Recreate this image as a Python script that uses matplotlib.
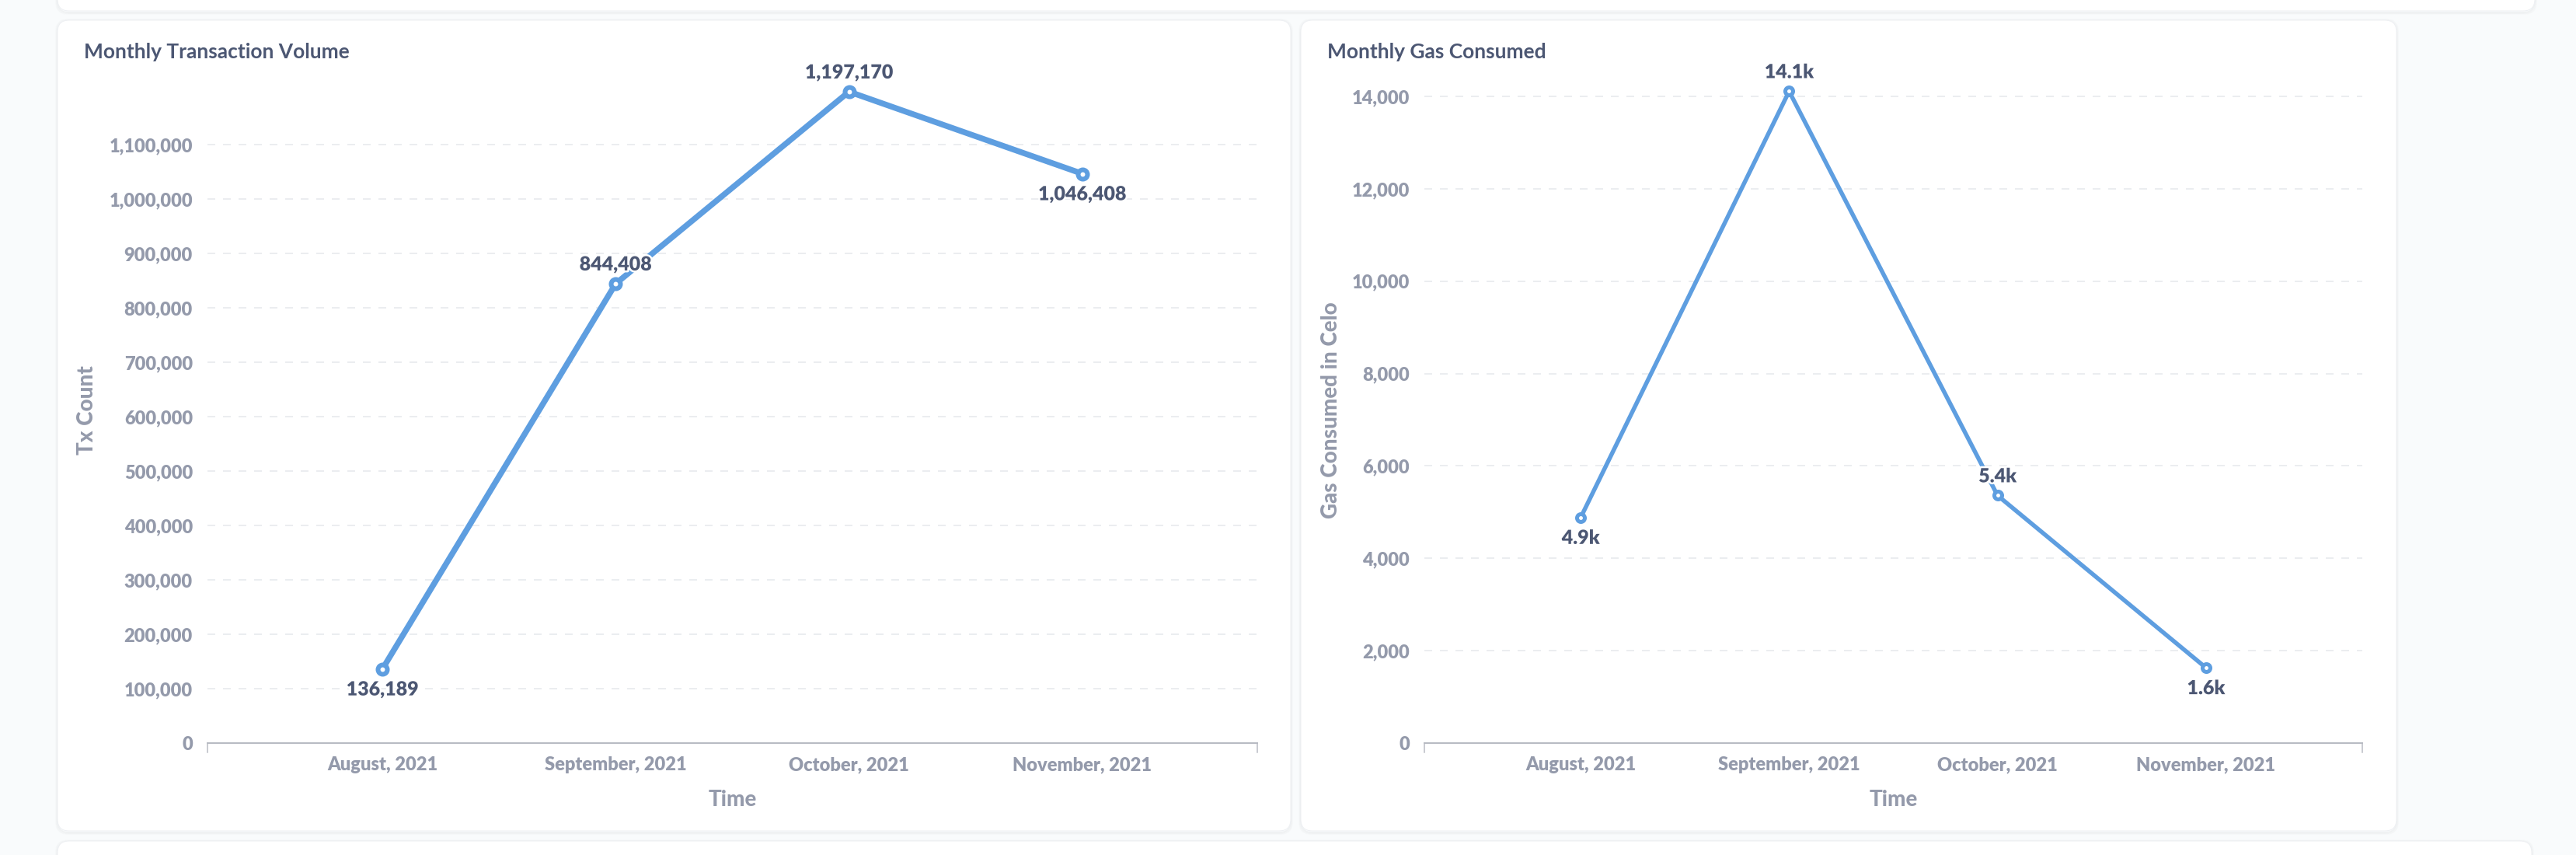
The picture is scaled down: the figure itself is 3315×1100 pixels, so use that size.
import matplotlib
matplotlib.use("Agg")
import matplotlib.pyplot as plt
from matplotlib.patches import FancyBboxPatch
from matplotlib.ticker import FuncFormatter
import matplotlib.patheffects as pe
from matplotlib import font_manager as fm

# ---------------- data ----------------
months = ["August, 2021", "September, 2021", "October, 2021", "November, 2021"]
tx_count = [136189, 844408, 1197170, 1046408]
tx_labels = ["136,189", "844,408", "1,197,170", "1,046,408"]
tx_label_pos = ["below", "above", "above", "below"]
tx_yticks = [0, 100000, 200000, 300000, 400000, 500000, 600000, 700000,
             800000, 900000, 1000000, 1100000]

gas = [4883, 14110, 5360, 1630]
gas_labels = ["4.9k", "14.1k", "5.4k", "1.6k"]
gas_label_pos = ["below", "above", "above", "below"]
gas_yticks = [0, 2000, 4000, 6000, 8000, 10000, 12000, 14000]

# ---------------- style ----------------
W, H = 3316, 1100
DPI = 100
PT = 72.0 / DPI  # points per pixel

BG = "#F9FBFC"
TITLE_C = "#4C5773"
TICK_C = "#949AAB"
LABEL_C = "#4C5773"
LINE_C = "#5E9EE0"
GRID_C = "#EBEDF0"
AXIS_C = "#B8BBC3"

WNUM = {"thin": 100, "extralight": 200, "ultralight": 200, "light": 300,
        "normal": 400, "regular": 400, "book": 400, "medium": 500,
        "roman": 400, "semibold": 600, "demibold": 600, "demi": 600,
        "bold": 700, "extrabold": 800, "heavy": 800, "extra bold": 800,
        "black": 900, "ultrabold": 800}


def lato(weight):
    cands = [f for f in fm.fontManager.ttflist
             if f.name == "Lato" and f.style == "normal"]
    if not cands:
        return fm.FontProperties(family=["Lato", "DejaVu Sans"], weight=weight)

    def wn(f):
        w = f.weight
        if isinstance(w, str):
            w = WNUM.get(w.lower(), 400)
        return int(w)
    best = min(cands, key=lambda f: (abs(wn(f) - weight), -wn(f)))
    return fm.FontProperties(fname=best.fname)


F_BOLD = lato(700)
F_HEAVY = lato(800)
F_BLACK = lato(900)

plt.rcParams["font.family"] = ["Lato", "DejaVu Sans"]

fig = plt.figure(figsize=(W / DPI, H / DPI), dpi=DPI, facecolor=BG)

# background layer in pixel coordinates
bg = fig.add_axes([0, 0, 1, 1], zorder=-10)
bg.set_xlim(0, W)
bg.set_ylim(H, 0)
bg.axis("off")


def card(x0, y0, x1, y1, r=15):
    for i, a in enumerate([0.035, 0.025, 0.015]):
        s = FancyBboxPatch((x0 - i, y0 + 1 - i), x1 - x0 + 2 * i, y1 - y0 + 2 * i + 1,
                           boxstyle=f"round,pad=0,rounding_size={r}",
                           facecolor="none", edgecolor="#000000", alpha=a,
                           linewidth=1.5 * PT, transform=bg.transData)
        bg.add_patch(s)
    p = FancyBboxPatch((x0, y0), x1 - x0, y1 - y0,
                       boxstyle=f"round,pad=0,rounding_size={r}",
                       facecolor="white", edgecolor="#EEF0F3",
                       linewidth=1.0 * PT, transform=bg.transData)
    bg.add_patch(p)


card(74, -60, 3262, 14)
card(74, 26, 1661, 1069)
card(1674, 26, 3084, 1069)
card(74, 1082, 3258, 1200)


def px_axes(x0, y0, x1, y1):
    return fig.add_axes([x0 / W, 1 - y1 / H, (x1 - x0) / W, (y1 - y0) / H])


def fp(base, size):
    f = base.copy()
    f.set_size(size)
    return f


def draw_panel(box, values, labels, label_pos, yticks, top_tick_px, title,
               title_x, ylabel, ylabel_x, lw_px, ms_px, mew_px):
    x0, y0, x1, y1 = box
    ax = px_axes(x0, y0, x1, y1)
    ax.set_facecolor("none")
    xs = list(range(len(values)))
    ax.set_xlim(-0.75, len(values) - 0.25)
    ytop = yticks[-1] * (y1 - y0) / (y1 - top_tick_px)
    ax.set_ylim(0, ytop)

    for s in ["top", "right", "left"]:
        ax.spines[s].set_visible(False)
    ax.spines["bottom"].set_color(AXIS_C)
    ax.spines["bottom"].set_linewidth(2 * PT)
    ax.spines["bottom"].set_zorder(1)

    ax.set_yticks(yticks)
    ax.yaxis.set_major_formatter(FuncFormatter(lambda v, p: f"{v:,.0f}"))
    ax.set_xticks(xs)
    ax.set_xticklabels(months)
    ax.tick_params(axis="y", length=0, pad=19 * PT, labelcolor=TICK_C)
    ax.tick_params(axis="x", length=0, pad=17 * PT, labelcolor=TICK_C)
    for t in ax.get_xticklabels() + ax.get_yticklabels():
        t.set_fontproperties(fp(F_HEAVY, 17))

    ax.grid(axis="y", color=GRID_C, linewidth=2 * PT, linestyle=(0, (5, 5)))
    ax.grid(axis="x", visible=False)
    ax.set_axisbelow(True)
    ax.get_ygridlines()[0].set_visible(False)

    for xa in (0, 1):
        ax.plot([xa, xa], [0, -12 / (y1 - y0)], transform=ax.transAxes,
                color=AXIS_C, linewidth=1.5 * PT, clip_on=False, zorder=1)

    ax.plot(xs, values, color=LINE_C, linewidth=lw_px * PT, marker="o",
            markersize=ms_px * PT, markeredgewidth=mew_px * PT,
            markerfacecolor="white", markeredgecolor=LINE_C,
            clip_on=False, zorder=3, solid_joinstyle="round")

    for x, v, lab, pos in zip(xs, values, labels, label_pos):
        dy = 24 if pos == "above" else -27
        ax.annotate(lab, (x, v), xytext=(0, dy * PT), textcoords="offset points",
                    ha="center", va="center", fontproperties=fp(F_HEAVY, 18),
                    color=LABEL_C, zorder=5, annotation_clip=False,
                    path_effects=[pe.withStroke(linewidth=5 * PT, foreground="white")])

    ax.set_xlabel("Time", fontproperties=fp(F_BLACK, 20), color=TICK_C)
    ax.xaxis.set_label_coords(0.5, -(1029 - y1) / (y1 - y0))
    ax.xaxis.label.set_va("center")
    ax.set_ylabel(ylabel, fontproperties=fp(F_BLACK, 20), color=TICK_C)
    ax.yaxis.set_label_coords(-(x0 - ylabel_x) / (x1 - x0), 0.5)
    ax.yaxis.label.set_va("center")

    fig.text(title_x / W, 1 - 67 / H, title, fontproperties=fp(F_BOLD, 19),
             color=TITLE_C, ha="left", va="center")
    return ax


draw_panel((267, 100, 1618, 956), tx_count, tx_labels, tx_label_pos, tx_yticks,
           186, "Monthly Transaction Volume", 108, "Tx Count", 112, 7.5, 12, 6)
draw_panel((1833, 100, 3040, 956), gas, gas_labels, gas_label_pos, gas_yticks,
           124, "Monthly Gas Consumed", 1708, "Gas Consumed in Celo", 1713, 5.5, 10, 5)

fig.savefig("out.png", dpi=DPI, facecolor=BG)
